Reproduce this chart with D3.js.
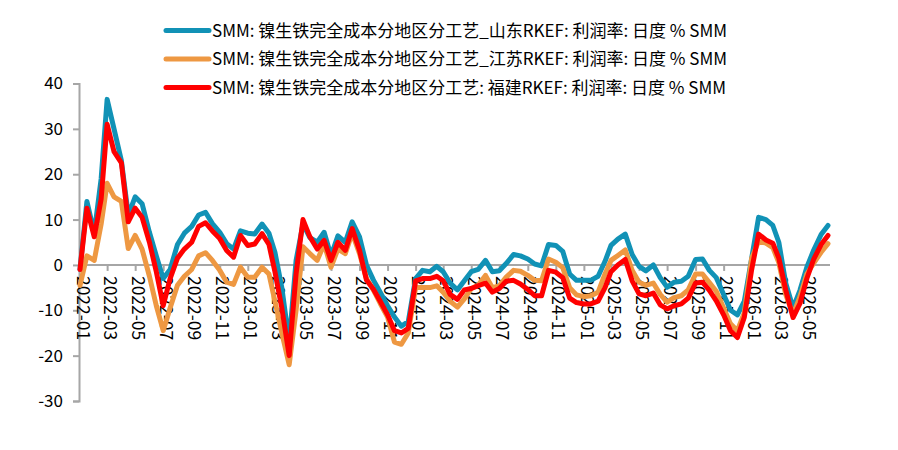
<!DOCTYPE html>
<html>
<head>
<meta charset="utf-8">
<title>镍生铁 RKEF 利润率</title>
<script src="https://d3js.org/d3.v7.min.js"></script>
<style>
  body { margin: 0; background: #fff; }
  svg text { font-family: "Microsoft YaHei", "Noto Sans CJK SC", "Noto Sans", sans-serif; }
</style>
</head>
<body>
<script>
// semi-monthly sample dates
var dates = [
  "2022-01-01","2022-01-16","2022-02-01","2022-02-16","2022-03-01","2022-03-16","2022-04-01","2022-04-16",
  "2022-05-01","2022-05-16","2022-06-01","2022-06-16","2022-07-01","2022-07-16","2022-08-01","2022-08-16",
  "2022-09-01","2022-09-16","2022-10-01","2022-10-16","2022-11-01","2022-11-16","2022-12-01","2022-12-16",
  "2023-01-01","2023-01-16","2023-02-01","2023-02-16","2023-03-01","2023-03-16","2023-04-01","2023-04-16",
  "2023-05-01","2023-05-16","2023-06-01","2023-06-16","2023-07-01","2023-07-16","2023-08-01","2023-08-16",
  "2023-09-01","2023-09-16","2023-10-01","2023-10-16","2023-11-01","2023-11-16","2023-12-01","2023-12-16",
  "2024-01-01","2024-01-16","2024-02-01","2024-02-16","2024-03-01","2024-03-16","2024-04-01","2024-04-16",
  "2024-05-01","2024-05-16","2024-06-01","2024-06-16","2024-07-01","2024-07-16","2024-08-01","2024-08-16",
  "2024-09-01","2024-09-16","2024-10-01","2024-10-16","2024-11-01","2024-11-16","2024-12-01","2024-12-16",
  "2025-01-01","2025-01-16","2025-02-01","2025-02-16","2025-03-01","2025-03-16","2025-04-01","2025-04-16",
  "2025-05-01","2025-05-16","2025-06-01","2025-06-16","2025-07-01","2025-07-16","2025-08-01","2025-08-16",
  "2025-09-01","2025-09-16","2025-10-01","2025-10-16","2025-11-01","2025-11-16","2025-12-01","2025-12-16",
  "2026-01-01","2026-01-16","2026-02-01","2026-02-16","2026-03-01","2026-03-16","2026-04-01","2026-04-16",
  "2026-05-01","2026-05-16","2026-06-01","2026-06-16"
];

var shandong = [
  -1, 14, 7, 19, 36.5, 30, 23, 11, 15, 13.5, 7.2, 2, -3, -1, 4.5, 7,
  8.5, 11, 11.6, 9.1, 7.2, 4.7, 3.5, 7.5, 7, 6.8, 9, 7, 2.8, -5, -17, 1,
  9, 6, 5, 7.2, 2, 6.4, 5, 9.5, 6.2, 0, -3.3, -6, -9, -11.5, -13.5, -12.5,
  -3, -1.2, -1.5, -0.3, -1.5, -4, -5.5, -3.5, -1.5, -1, 1, -1.5, -1.3, 0.3, 2.3, 2,
  1.3, 0.2, -0.2, 4.5, 4.3, 3, -2, -3.4, -3.4, -3.4, -2.5, 0.8, 4.3, 5.7, 6.8, 2.3,
  -0.3, -1.3, 0, -2.8, -4.9, -3.8, -3.6, -2.5, 1.2, 1.3, -1.2, -2.8, -6.5, -10, -11, -8,
  1.5, 10.5, 10, 8.7, 5, -4, -9.5, -5.6, -0.5, 3.3, 6.7, 8.7
];

var jiangsu = [
  -4.5, 2, 1, 9, 18, 15, 14, 3.6, 6.5, 3.5, -2.5, -9, -14.5, -9.5, -4.5, -2.5,
  -1, 2, 2.7, 1, -1.2, -3.8, -4.3, -0.5, -2.7, -2.7, -0.5, -2, -8, -15, -22, -10,
  4, 2.5, 1, 4.6, -0.5, 3.5, 2.5, 7, 2.5, -3, -5.5, -8.5, -11.5, -17, -17.5, -15,
  -5, -5, -5, -4.6, -6, -8, -9.3, -7.5, -5.2, -4.5, -2.3, -5, -4.6, -2.7, -1.2, -1.4,
  -2.3, -3.4, -3.5, 1.3, 0.6, -0.6, -5, -6.6, -7, -6.8, -6, -2, 1, 2.1, 3.3, -1.2,
  -3.8, -4.5, -4, -6.5, -8.2, -7.2, -6.8, -5.5, -2, -2, -3.9, -5.8, -9.5, -13, -14.5, -10.5,
  1.5, 5.2, 4.8, 3.8, 0.5, -6.5, -11, -7, -2, 0.4, 2.8, 4.7
];

var fujian = [
  -1, 12.5, 6.2, 14.5, 31, 25, 22.5, 9.5, 12.5, 10.5, 5, -1.5, -9, -3, 1.5, 3.5,
  5, 8.5, 9.3, 7.5, 5.8, 3.2, 1.7, 6.5, 4.3, 4.6, 6.9, 4.5, -1.5, -9.5, -20, -2,
  10, 6.2, 3.5, 5.4, 1, 5, 3.2, 8, 3.2, -3.3, -5.3, -8, -11, -14.5, -15, -14,
  -3.5, -3, -3, -2.5, -3.5, -6.5, -7.6, -5.5, -5.2, -4.6, -4, -6, -5.2, -3.6, -3.4, -4.2,
  -5.4, -6.8, -6.8, -1.2, -1.6, -2.8, -7.3, -8.3, -8.6, -8.6, -8, -5, -1.5, 0, 1.2, -3.5,
  -6.4, -6.8, -6.2, -8.8, -9.7, -9, -8.6, -7.3, -4, -3.8, -5.6, -7.9, -11, -14.5, -16, -11.5,
  -1, 6.8, 5.5, 4.8, 1.5, -5.5, -11.6, -8.5, -3, 1.3, 4.5, 6.5
];

var seriesNames = [
  "SMM: 镍生铁完全成本分地区分工艺_山东RKEF: 利润率: 日度 % SMM",
  "SMM: 镍生铁完全成本分地区分工艺_江苏RKEF: 利润率: 日度 % SMM",
  "SMM: 镍生铁完全成本分地区分工艺: 福建RKEF: 利润率: 日度 % SMM"
];
var colors = ["#1192B6", "#EE9842", "#FF0000"];
var yTicks = [40, 30, 20, 10, 0, -10, -20, -30];

var width = 898, height = 450;
var parse = d3.timeParse("%Y-%m-%d");
var dateObjs = dates.map(parse);

var svg = d3.select("body").append("svg")
    .attr("width", width).attr("height", height);

var x = d3.scaleTime()
    .domain([dateObjs[0], dateObjs[dateObjs.length - 1]])
    .range([80, 828]);
var y = d3.scaleLinear().domain([-30, 40]).range([401, 83.5]);

// y axis
var yAxis = svg.append("g").attr("transform", "translate(79,0)")
    .call(d3.axisLeft(y).tickValues(yTicks).tickSize(6).tickPadding(10)
      .tickFormat(function(d) { return String(d); }));
yAxis.select(".domain").attr("stroke", "#A6A6A6").attr("stroke-width", 2);
yAxis.selectAll(".tick line").attr("stroke", "#A6A6A6").attr("stroke-width", 2);
yAxis.selectAll(".tick text").attr("font-size", 17).attr("fill", "#000")
    .attr("font-family", "\"Microsoft YaHei\", \"Noto Sans\", sans-serif");

// x axis on zero line
var xTickDates = d3.timeMonth.every(2).range(parse("2022-01-01"), parse("2026-06-02"));
var xAxis = svg.append("g").attr("transform", "translate(0," + y(0) + ")")
    .call(d3.axisBottom(x).tickValues(xTickDates).tickSize(6)
      .tickFormat(d3.timeFormat("%Y-%m")));
xAxis.select(".domain").attr("stroke", "#A6A6A6").attr("stroke-width", 2)
    .attr("d", "M" + x.range()[0] + ",0H" + (x.range()[1] + 2));
xAxis.selectAll(".tick line").attr("stroke", "#A6A6A6").attr("stroke-width", 2);
xAxis.selectAll(".tick text")
    .attr("font-size", 17.5).attr("fill", "#000")
    .attr("font-family", "\"Microsoft YaHei\", \"Noto Sans\", sans-serif")
    .attr("text-anchor", "start")
    .attr("transform", "rotate(90)")
    .attr("x", 11).attr("y", 0).attr("dy", "0.22em");

// lines
var allSeries = [shandong, jiangsu, fujian];
var line = d3.line()
    .x(function(d, i) { return x(dateObjs[i]); })
    .y(function(d) { return y(d); });

allSeries.forEach(function(vals, s) {
  svg.append("path")
    .datum(vals)
    .attr("fill", "none")
    .attr("stroke", colors[s])
    .attr("stroke-width", 5)
    .attr("stroke-linejoin", "round")
    .attr("stroke-linecap", "round")
    .attr("d", line);
});

// legend
var legend = svg.append("g");
seriesNames.forEach(function(name, i) {
  var ly = 30.5 + i * 28.5;
  legend.append("line")
    .attr("x1", 166).attr("x2", 209).attr("y1", ly).attr("y2", ly)
    .attr("stroke", colors[i]).attr("stroke-width", 5).attr("stroke-linecap", "round");
  legend.append("text")
    .attr("x", 212).attr("y", ly).attr("dy", "0.36em")
    .attr("font-size", 17).attr("fill", "#000")
    .text(name);
});
</script>
</body>
</html>
